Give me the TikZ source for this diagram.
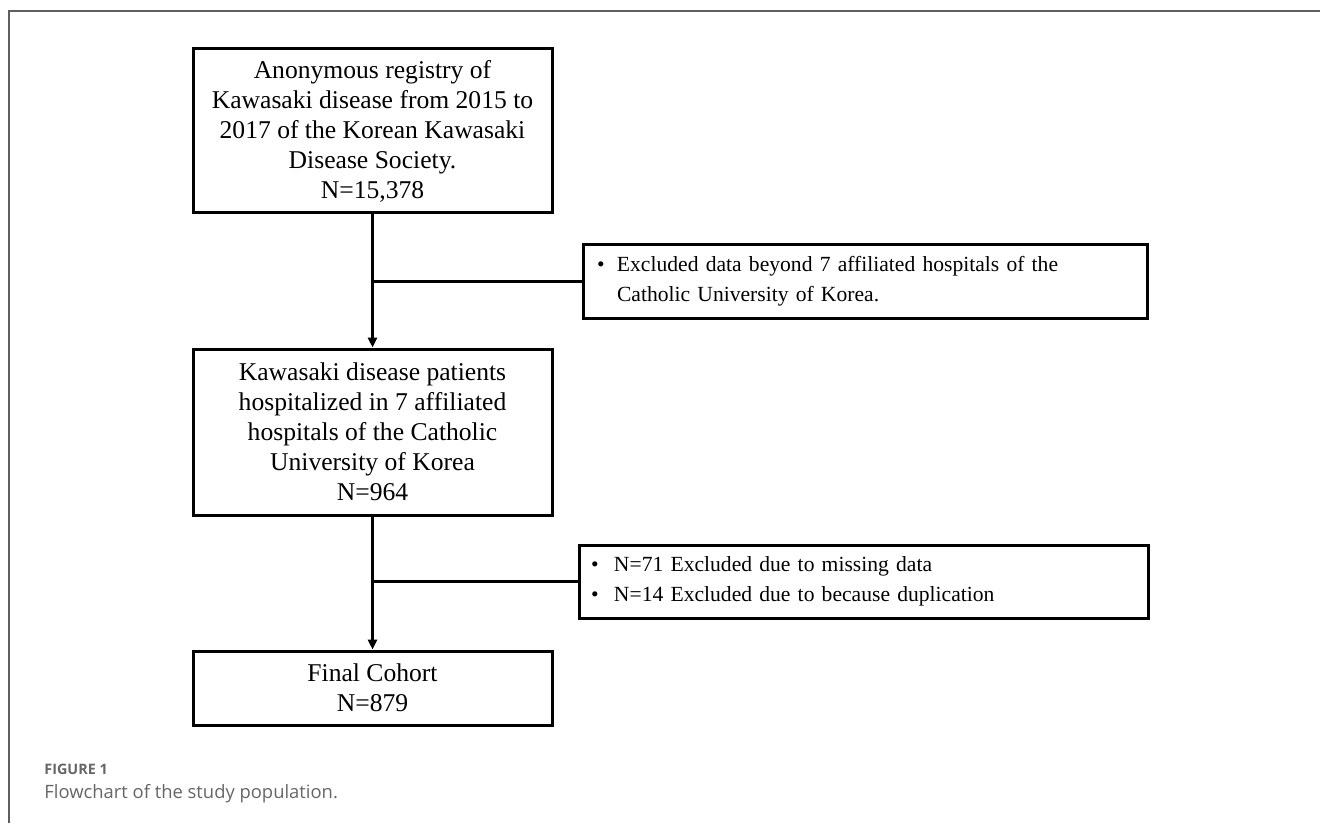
\documentclass[tikz,border=0pt]{standalone}
\usepackage{fontspec}
\setmainfont{Liberation Serif}
\newfontfamily\capfont{Open Sans}
\usetikzlibrary{arrows.meta}
\definecolor{capgray}{HTML}{666666}
\definecolor{framegray}{HTML}{5E5E5E}

\begin{document}
\begin{tikzpicture}[x=0.5pt,y=-0.5pt,
  mainbox/.style={draw,line width=1.5pt,minimum width=179.5pt,align=center,inner sep=0pt,
    font=\fontsize{12.8}{15}\selectfont},
  sidebox/.style={draw,line width=1.5pt,minimum height=36.5pt,align=left,inner ysep=0pt,
    font=\fontsize{10.8}{14.8}\selectfont},
  flow/.style={line width=1.3pt,-{Triangle[length=5pt,width=4.5pt]}},
  branch/.style={line width=1.3pt}]
  \useasboundingbox (0,0) rectangle (1320,823);
  % Frame
  \draw[framegray,line width=1pt] (9,823) -- (9,11) -- (1320,11);
  % Main column
  \node[mainbox,minimum height=82pt] (registry) at (372.5,131)
    {Anonymous registry of\\ Kawasaki disease from 2015 to\\ 2017 of the Korean Kawasaki\\ Disease Society.\\ N=15,378};
  \node[mainbox,minimum height=83pt] (hospital) at (372.5,432)
    {Kawasaki disease patients\\ hospitalized in 7 affiliated\\ hospitals of the Catholic\\ University of Korea\\ N=964};
  \node[mainbox,minimum height=37pt] (cohort) at (372.5,688)
    {Final Cohort\\ N=879};
  % Exclusion boxes
  \node[sidebox,inner xsep=7pt,text width=268pt] (excl1) at (865,281.5)
    {\makebox[10pt][l]{\textbullet}Excluded data beyond 7 affiliated hospitals of the\\
     \hspace*{10pt}Catholic University of Korea.};
  \node[sidebox,inner xsep=6pt,text width=272.5pt] (excl2) at (863.5,581.5)
    {\makebox[11.5pt][l]{\textbullet}N=71 Excluded due to missing data\\
     \makebox[11.5pt][l]{\textbullet}N=14 Excluded due to because duplication};
  % Connectors
  \draw[flow] (registry.south) -- (hospital.north);
  \draw[flow] (hospital.south) -- (cohort.north);
  \draw[branch] (registry.south |- excl1.west) -- (excl1.west);
  \draw[branch] (hospital.south |- excl2.west) -- (excl2.west);
  % Caption
  \node[anchor=base west,inner sep=0pt,text=capgray,font=\capfont\bfseries\fontsize{7.2}{8}\selectfont]
    (figlabel) at (44,774) {FIGURE 1};
  \node[anchor=base west,inner sep=0pt,text=capgray,font=\capfont\fontsize{9.2}{11}\selectfont]
    (figcaption) at (44,798) {Flowchart of the study population.};
\end{tikzpicture}
\end{document}
